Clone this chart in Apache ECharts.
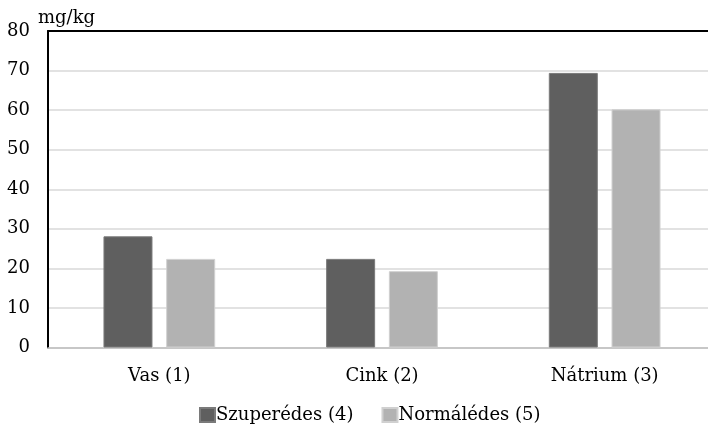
<!DOCTYPE html>
<html>
<head>
<meta charset="utf-8">
<script src="https://cdn.jsdelivr.net/npm/echarts@6/dist/echarts.min.js"></script>
<style>html,body{margin:0;padding:0;background:#fff;overflow:hidden;}#c{width:716px;height:427px;}</style>
</head>
<body>
<div id="c"></div>
<script>
const categories = ['Vas (1)', 'Cink (2)', 'Nátrium (3)'];
const seriesNames = ['Szuperédes (4)', 'Normálédes (5)'];
const szuperedes = [28.1, 22.4, 69.4];
const normaledes = [22.4, 19.3, 60.2];
const yTicks = [0, 10, 20, 30, 40, 50, 60, 70, 80];
const unitLabel = 'mg/kg';

const FONT = 'DejaVu Serif';
const chart = echarts.init(document.getElementById('c'), null, {renderer: 'canvas'});
chart.setOption({
  animation: false,
  backgroundColor: '#fff',
  textStyle: {fontFamily: FONT},
  grid: {left: 48, right: 0, top: 31, bottom: 79.5, containLabel: false},
  legend: {
    data: seriesNames,
    top: 401,
    left: 194,
    itemWidth: 15,
    itemHeight: 14,
    itemGap: 28,
    icon: 'rect',
    textStyle: {fontFamily: FONT, fontSize: 18, color: '#000', padding: [0, 0, 0, -4]}
  },
  xAxis: [{
    type: 'category',
    data: categories,
    axisLine: {show: true, lineStyle: {color: '#bfbfbf', width: 1.5}},
    axisTick: {show: false},
    axisLabel: {fontFamily: FONT, fontSize: 18, color: '#000', margin: 20}
  }, {
    type: 'category',
    position: 'top',
    data: categories,
    axisLine: {show: true, onZero: false, lineStyle: {color: '#000', width: 2}},
    axisTick: {show: false},
    axisLabel: {show: false}
  }],
  yAxis: {
    type: 'value',
    min: yTicks[0],
    max: yTicks[yTicks.length - 1],
    interval: 10,
    name: unitLabel,
    nameLocation: 'end',
    nameGap: 4,
    nameTextStyle: {fontFamily: FONT, fontSize: 18, color: '#000', align: 'left', padding: [0, 0, 0, -10]},
    axisLine: {show: true, lineStyle: {color: '#000', width: 2}},
    axisTick: {show: false},
    axisLabel: {fontFamily: FONT, fontSize: 18, color: '#000', margin: 18},
    splitLine: {lineStyle: {color: '#d9d9d9', width: 1.5}}
  },
  series: [{
    name: seriesNames[0],
    type: 'bar',
    data: szuperedes,
    barWidth: 49,
    barGap: '28%',
    itemStyle: {color: '#5f5f5f', borderColor: '#7a7a7a', borderWidth: 1}
  }, {
    name: seriesNames[1],
    type: 'bar',
    data: normaledes,
    barWidth: 49,
    barGap: '28%',
    itemStyle: {color: '#b2b2b2', borderColor: '#d0d0d0', borderWidth: 1}
  }]
});
</script>
</body>
</html>
